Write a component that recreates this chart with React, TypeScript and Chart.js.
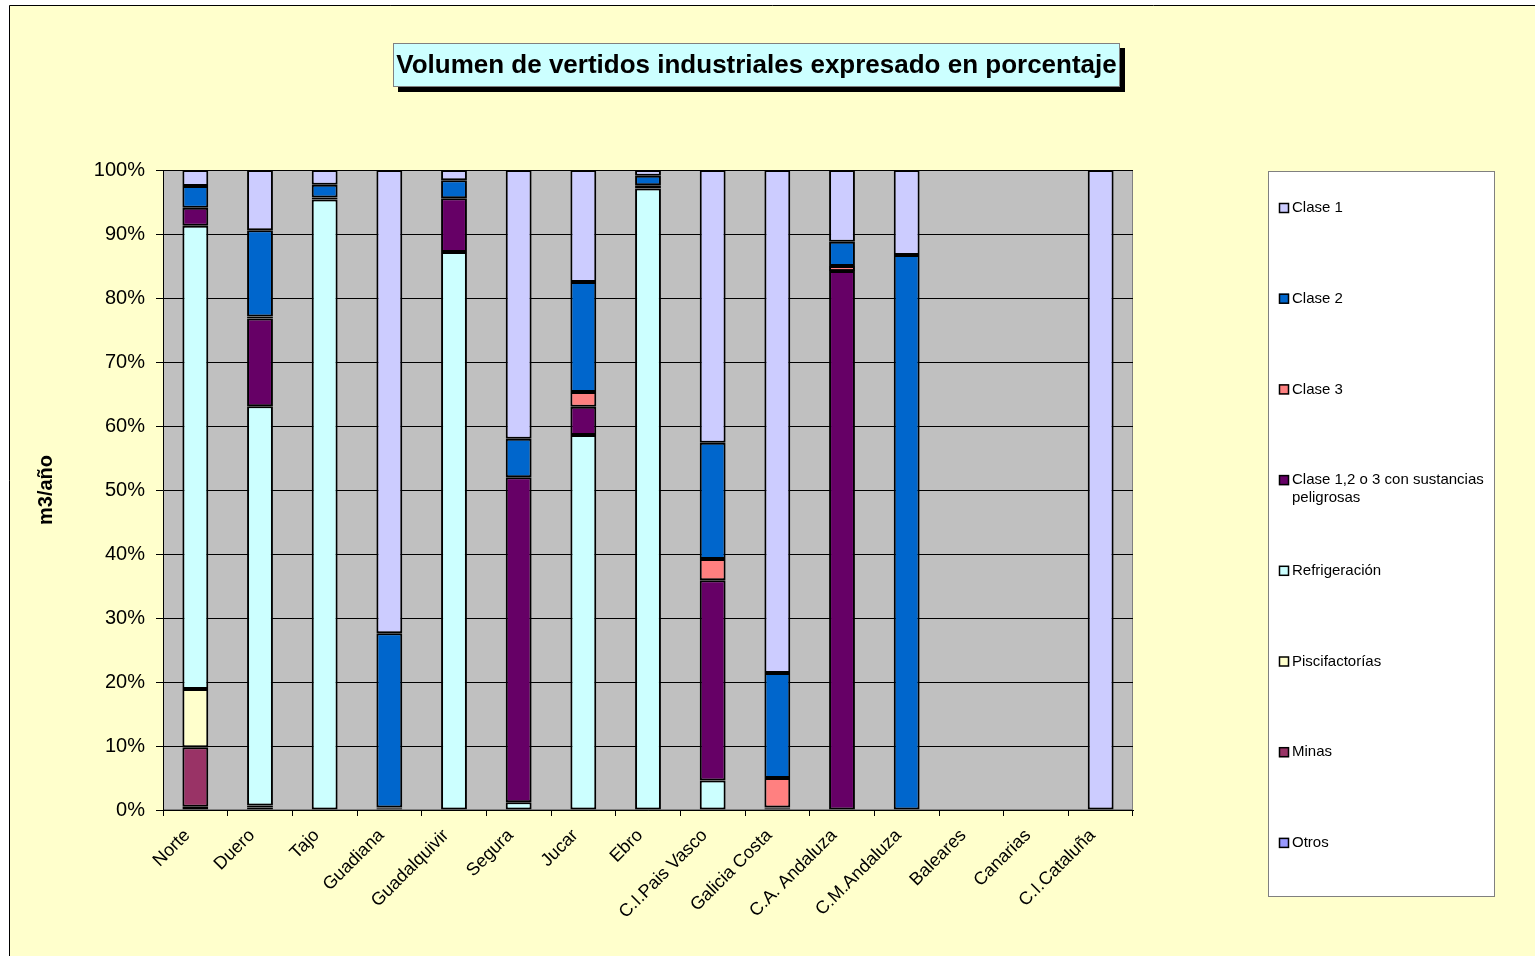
import React, { useEffect, useRef } from "react";
import { Chart, registerables } from "chart.js";

Chart.register(...registerables);

const categories = [
  "Norte", "Duero", "Tajo", "Guadiana", "Guadalquivir", "Segura", "Jucar", "Ebro",
  "C.I.Pais Vasco", "Galicia Costa", "C.A. Andaluza", "C.M.Andaluza", "Baleares", "Canarias", "C.I.Cataluña",
];

// stacked bottom -> top
const otros =          [0.5, 0.4, 0,    0,    0,    0,    0,    0,    0,    0,    0,    0,    0, 0, 0];
const minas =          [9.3, 0.3, 0,    0,    0,    0,    0,    0,    0,    0,    0,    0,    0, 0, 0];
const piscifactorias = [9.1, 0,   0,    0,    0,    0,    0,    0,    0,    0,    0,    0,    0, 0, 0];
const refrigeracion =  [72.4, 62.4, 95.4, 0,  87.2, 1.2,  58.6, 97.1, 4.6,  0.2,  0,    0,    0, 0, 0];
const peligrosas =     [2.8, 13.7, 0.3, 0.2,  8.4,  50.8, 4.4,  0.5,  31.3, 0.2,  84.2, 0,    0, 0, 0];
const clase3 =         [0,   0.3, 0,    0.2,  0,    0,    2.3,  0,    3.3,  4.6,  0.8,  0,    0, 0, 0];
const clase2 =         [3.4, 13.5, 2.0, 27.2, 2.8,  6.0,  17.2, 1.5,  18.2, 16.4, 3.8,  86.7, 0, 0, 0];
const clase1 =         [2.5, 9.4, 2.3,  72.4, 1.6,  42.0, 17.5, 0.9,  42.6, 78.6, 11.2, 13.3, 0, 0, 100];

const yTicks = [0, 10, 20, 30, 40, 50, 60, 70, 80, 90, 100];

const seriesNames = [
  "Otros", "Minas", "Piscifactorías", "Refrigeración",
  "Clase 1,2 o 3 con sustancias peligrosas", "Clase 3", "Clase 2", "Clase 1",
];
const seriesColors = ["#9999FF", "#993366", "#FFFFCC", "#CCFFFF", "#660066", "#FF8080", "#0066CC", "#CCCCFF"];
const seriesData = [otros, minas, piscifactorias, refrigeracion, peligrosas, clase3, clase2, clase1];

const TITLE = "Volumen de vertidos industriales expresado en porcentaje";
const Y_TITLE = "m3/año";

const decorPlugin = {
  id: "decor",
  beforeDraw(chart: any) {
    const { ctx, chartArea } = chart;
    const W = chart.width;
    const H = chart.height;
    ctx.save();
    ctx.fillStyle = "#FFFFFF";
    ctx.fillRect(0, 0, W, H);
    ctx.fillStyle = "#FFFFCC";
    ctx.fillRect(9, 5, W - 9, H - 5);
    ctx.strokeStyle = "#000000";
    ctx.lineWidth = 1;
    ctx.beginPath();
    ctx.moveTo(9.5, H);
    ctx.lineTo(9.5, 5.5);
    ctx.lineTo(W, 5.5);
    ctx.stroke();
    // plot area
    ctx.fillStyle = "#C0C0C0";
    ctx.fillRect(chartArea.left, chartArea.top, chartArea.right - chartArea.left, chartArea.bottom - chartArea.top);
    ctx.strokeStyle = "#808080";
    ctx.strokeRect(chartArea.left + 0.5, chartArea.top + 0.5, chartArea.right - chartArea.left - 1, chartArea.bottom - chartArea.top - 1);
    ctx.restore();
  },
  afterDraw(chart: any) {
    const { ctx } = chart;
    ctx.save();
    // title box
    const bx = 393, by = 43, bw = 727, bh = 44;
    ctx.fillStyle = "#000000";
    ctx.fillRect(bx + 5, by + 5, bw, bh);
    ctx.fillStyle = "#CCFFFF";
    ctx.fillRect(bx, by, bw, bh);
    ctx.strokeStyle = "#808080";
    ctx.lineWidth = 1;
    ctx.strokeRect(bx + 0.5, by + 0.5, bw - 1, bh - 1);
    ctx.fillStyle = "#000000";
    ctx.font = "bold 26px Arial, 'Liberation Sans', sans-serif";
    ctx.textAlign = "center";
    ctx.textBaseline = "middle";
    ctx.fillText(TITLE, bx + bw / 2, by + bh / 2 + 1);

    // y axis title
    ctx.save();
    ctx.translate(46, 490);
    ctx.rotate(-Math.PI / 2);
    ctx.font = "bold 20px Arial, 'Liberation Sans', sans-serif";
    ctx.textAlign = "center";
    ctx.textBaseline = "middle";
    ctx.fillText(Y_TITLE, 0, 0);
    ctx.restore();

    // legend
    const lx = 1268, ly = 171, lw = 227, lh = 726;
    ctx.fillStyle = "#FFFFFF";
    ctx.fillRect(lx, ly, lw, lh);
    ctx.strokeStyle = "#808080";
    ctx.strokeRect(lx + 0.5, ly + 0.5, lw - 1, lh - 1);
    const ds = chart.data.datasets;
    const n = ds.length;
    ctx.font = "15px Arial, 'Liberation Sans', sans-serif";
    ctx.textAlign = "left";
    ctx.textBaseline = "middle";
    for (let k = 0; k < n; k++) {
      const d = ds[n - 1 - k];
      const cy = 208 + k * 90.7;
      ctx.fillStyle = d.backgroundColor;
      ctx.fillRect(1279, cy - 5, 10, 10);
      ctx.strokeStyle = "#000000";
      ctx.lineWidth = 1.5;
      ctx.strokeRect(1279.5, cy - 4.5, 9, 9);
      ctx.fillStyle = "#000000";
      const label: string = d.label;
      if (label.length > 30) {
        const parts = label.split(" ");
        const line1 = parts.slice(0, parts.length - 1).join(" ");
        const line2 = parts[parts.length - 1];
        ctx.fillText(line1, 1292, cy);
        ctx.fillText(line2, 1292, cy + 18);
      } else {
        ctx.fillText(label, 1292, cy);
      }
    }
    ctx.restore();
  },
};

export default function App() {
  const ref = useRef<HTMLCanvasElement | null>(null);
  useEffect(() => {
    if (!ref.current) return;
    const chart = new Chart(ref.current, {
      type: "bar",
      data: {
        labels: categories,
        datasets: seriesData.map((d, i) => ({
          label: seriesNames[i],
          data: d,
          backgroundColor: seriesColors[i],
          borderColor: "#000000",
          borderWidth: 2,
          borderSkipped: false,
          barPercentage: 0.4,
          categoryPercentage: 1,
        })),
      },
      options: {
        animation: false,
        responsive: false,
        maintainAspectRatio: false,
        layout: { padding: { left: 0, top: 170, right: 402, bottom: 0 } },
        plugins: {
          legend: { display: false },
          title: { display: false },
          tooltip: { enabled: false },
        },
        scales: {
          x: {
            stacked: true,
            border: { color: "#000000", width: 1 },
            grid: { drawOnChartArea: false, drawTicks: true, tickLength: 6, color: "#000000", offset: true },
            ticks: {
              color: "#000000",
              font: { family: "Arial, 'Liberation Sans', sans-serif", size: 18 },
              minRotation: 45,
              maxRotation: 45,
              autoSkip: false,
              padding: 9,
              labelOffset: -8,
            },
            afterFit(scale: any) { scale.height = 146; },
          },
          y: {
            stacked: true,
            min: 0,
            max: 100,
            border: { color: "#000000", width: 1 },
            grid: { color: "#000000", lineWidth: 1, drawTicks: true, tickLength: 7 },
            afterBuildTicks(scale: any) { scale.ticks = yTicks.map((v) => ({ value: v })); },
            ticks: {
              color: "#000000",
              font: { family: "Arial, 'Liberation Sans', sans-serif", size: 20 },
              padding: 11,
              callback: (v: any) => v + "%",
            },
            afterFit(scale: any) { scale.width = 163; },
          },
        },
      },
      plugins: [decorPlugin],
    });
    return () => chart.destroy();
  }, []);
  return (
    <div style={{ position: "fixed", left: 0, top: 0, width: 1535, height: 956 }}>
      <canvas ref={ref} width={1535} height={956} style={{ display: "block", width: 1535, height: 956 }} />
    </div>
  );
}
